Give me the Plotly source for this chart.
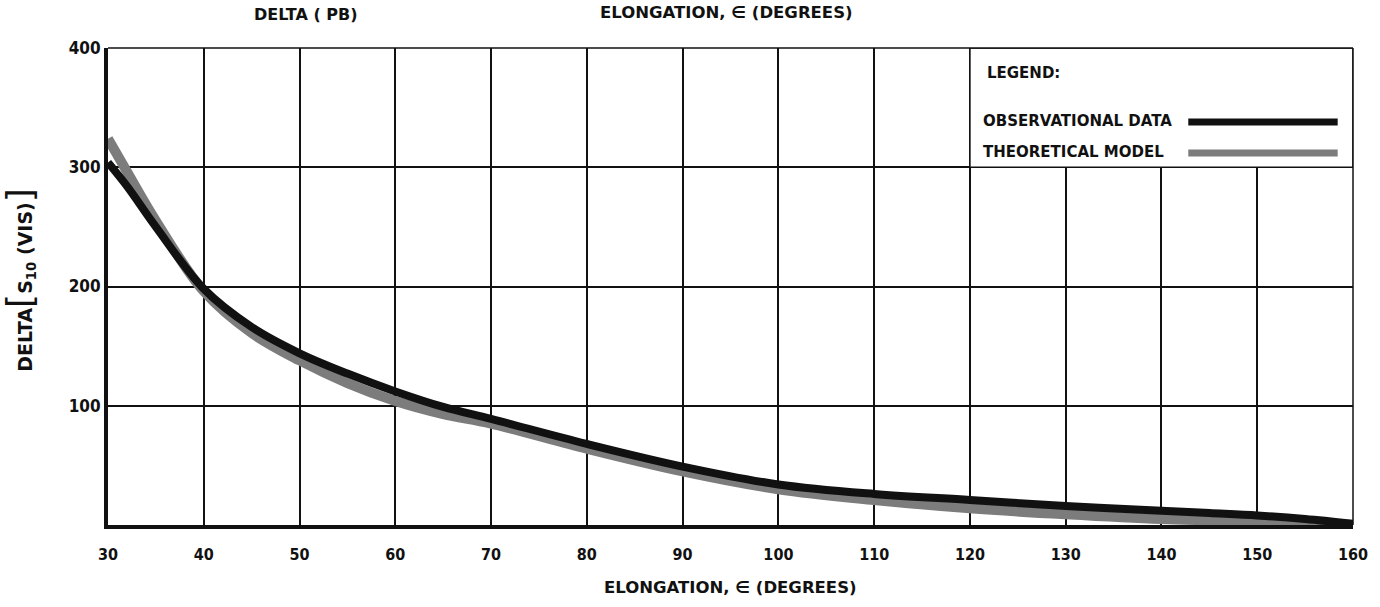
import plotly.graph_objects as go

# Elongation (degrees) and DELTA[S10(VIS)] values for both curves
elong_obs = [30, 32, 35, 40, 45, 50, 55, 60, 65, 70, 80, 90, 100, 110, 120, 130, 140, 145, 150, 155, 160]
delta_obs = [304, 284, 250, 198, 166, 144, 127, 112, 99, 89, 68, 49, 34, 26, 21, 16, 12, 10, 8, 5, 1]

elong_model = [30, 32, 35, 40, 45, 50, 55, 60, 65, 70, 80, 90, 100, 110, 120, 130, 140, 150, 160]
delta_model = [324, 296, 255, 196, 161, 138, 119, 104, 93, 85, 64, 45, 30, 21, 14, 9, 5, 3, 0]

x_ticks = list(range(30, 161, 10))
y_ticks = [100, 200, 300, 400]

FONT = "DejaVu Sans Condensed"
TITLE_FONT = "DejaVu Sans"
INK = "#111111"
GREY = "#7c7c7c"

fig = go.Figure()

fig.add_trace(go.Scatter(
    x=elong_model, y=delta_model, mode="lines",
    line=dict(color=GREY, width=10, shape="spline", smoothing=1.0),
    name="THEORETICAL MODEL", showlegend=False, hoverinfo="skip"))
fig.add_trace(go.Scatter(
    x=elong_obs, y=delta_obs, mode="lines",
    line=dict(color=INK, width=8, shape="spline", smoothing=1.0),
    name="OBSERVATIONAL DATA", showlegend=False, hoverinfo="skip"))

# Legend box in the upper-right grid cells
fig.add_shape(type="rect", xref="x", yref="y", x0=120, x1=160, y0=300, y1=400,
              fillcolor="white", line=dict(color=INK, width=1.5), layer="above")
fig.add_shape(type="line", xref="x", yref="y", x0=142.8, x1=158.4, y0=338, y1=338,
              line=dict(color=INK, width=7), layer="above")
fig.add_shape(type="line", xref="x", yref="y", x0=142.8, x1=158.4, y0=312, y1=312,
              line=dict(color=GREY, width=7), layer="above")

annots = [
    dict(x=121.6, y=379, text="LEGEND:", xanchor="left"),
    dict(x=121.2, y=339, text="OBSERVATIONAL DATA", xanchor="left"),
    dict(x=121.2, y=313, text="THEORETICAL MODEL", xanchor="left"),
]
for a in annots:
    fig.add_annotation(xref="x", yref="y", showarrow=False, yanchor="middle",
                       font=dict(family=TITLE_FONT, size=15, color=INK, weight="bold"), **a)

# Titles around the frame
fig.add_annotation(xref="paper", yref="paper", x=0.116, y=1.0, yshift=34,
                   text="DELTA ( PB)", showarrow=False, yanchor="middle",
                   font=dict(family=TITLE_FONT, size=16, color=INK, weight="bold"))
fig.add_annotation(xref="paper", yref="paper", x=0.497, y=1.0, yshift=36,
                   text="ELONGATION, ∈ (DEGREES)", showarrow=False, yanchor="middle",
                   font=dict(family=TITLE_FONT, size=16.5, color=INK, weight="bold"))
fig.add_annotation(xref="paper", yref="paper", x=0.5, y=0.0, yshift=-62,
                   text="ELONGATION, ∈ (DEGREES)", showarrow=False, yanchor="middle",
                   font=dict(family=TITLE_FONT, size=16.5, color=INK, weight="bold"))
fig.add_annotation(xref="paper", yref="paper", x=0.0, xshift=-88, y=0.514,
                   text=("DELTA<span style='font-size:36px;font-weight:normal'>[</span>"
                         "S<sub>10</sub> (VIS)"
                         "<span style='font-size:36px;font-weight:normal'>]</span>"),
                   textangle=-90, showarrow=False, xanchor="center", yanchor="middle",
                   font=dict(family=TITLE_FONT, size=19, color=INK, weight="bold"))

fig.update_xaxes(range=[30, 160], tickvals=x_ticks, ticktext=[str(v) for v in x_ticks],
                 showgrid=True, gridcolor=INK, gridwidth=1.5,
                 showline=True, linecolor=INK, linewidth=4, mirror=False,
                 zeroline=False, ticks="", ticklabelstandoff=12,
                 tickfont=dict(family=FONT, size=16, color=INK, weight="bold"))
fig.update_yaxes(range=[0, 400], tickvals=y_ticks, ticktext=[str(v) for v in y_ticks],
                 showgrid=True, gridcolor=INK, gridwidth=1.5,
                 showline=True, linecolor=INK, linewidth=4, mirror=False,
                 zeroline=False, ticks="", ticklabelstandoff=0,
                 tickfont=dict(family=FONT, size=17, color=INK, weight="bold"))

# Thin top and right frame edges
fig.add_shape(type="line", xref="paper", yref="paper", x0=0, x1=1, y0=1, y1=1,
              line=dict(color=INK, width=1.5))
fig.add_shape(type="line", xref="paper", yref="paper", x0=1, x1=1, y0=0, y1=1,
              line=dict(color=INK, width=1.5))

fig.update_layout(width=1380, height=607,
                  margin=dict(l=108, r=27, t=48, b=82),
                  paper_bgcolor="white", plot_bgcolor="white",
                  showlegend=False)

fig.write_html("out.html")
